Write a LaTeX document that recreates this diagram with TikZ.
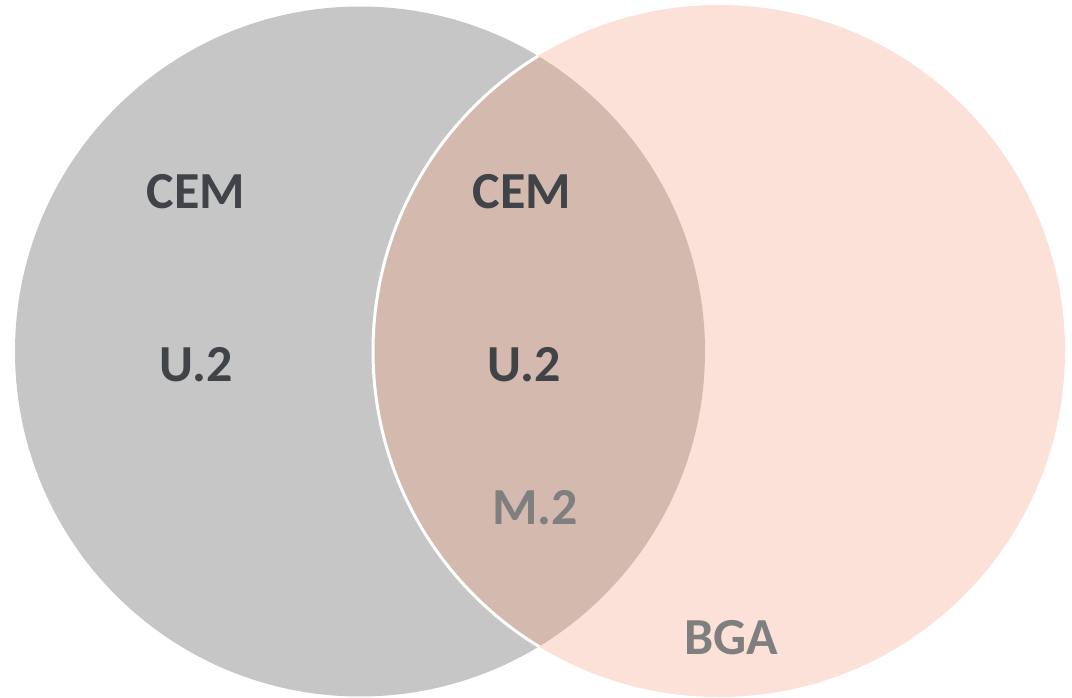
\documentclass[tikz,border=0pt]{standalone}
\usepackage{fontspec}
\setmainfont{Carlito}
\definecolor{leftgray}{HTML}{C6C6C6}
\definecolor{rightpeach}{HTML}{FBE1D7}
\definecolor{overlap}{HTML}{D4B9AF}
\definecolor{darktext}{HTML}{404348}
\definecolor{lighttext}{HTML}{7F7F7F}
\tikzset{
  lbl/.style={font=\fontsize{52}{62}\selectfont\bfseries, text=darktext, inner sep=0pt},
  lbllight/.style={lbl, text=lighttext},
}
\begin{document}
\begin{tikzpicture}[x=1pt,y=-1pt]
\useasboundingbox (0,0) rectangle (1072,698);
\coordinate (cl) at (360,351.5);
\coordinate (cr) at (719,351);
\fill[leftgray] (cl) circle[radius=345];
\fill[rightpeach] (cr) circle[radius=346];
\begin{scope}
  \clip (cr) circle[radius=346];
  \fill[overlap] (cl) circle[radius=345];
\end{scope}
\begin{scope}
  \clip (cl) circle[radius=345];
  \draw[white, line width=3pt] (cr) circle[radius=346];
\end{scope}
\node[lbl] (cem1) at (196,192) {CEM};
\node[lbl] (cem2) at (522,192) {CEM};
\node[lbl] (u1) at (196,365) {U.2};
\node[lbl] (u2) at (524,365) {U.2};
\node[lbllight] (m2) at (535,508) {M.2};
\node[lbllight] (bga) at (731,638) {BGA};
\end{tikzpicture}
\end{document}
